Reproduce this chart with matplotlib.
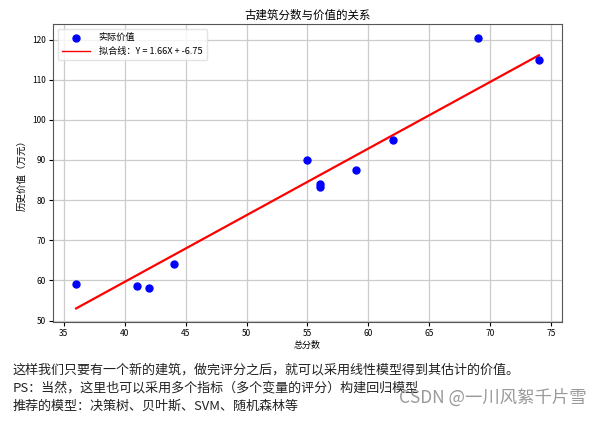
import matplotlib
matplotlib.use('Agg')
import matplotlib.pyplot as plt
import numpy as np

plt.rcParams['font.family'] = ['Noto Sans CJK SC', 'DejaVu Sans']
plt.rcParams['axes.unicode_minus'] = False

# data
scores = [36, 41, 42, 44, 55, 56, 56, 59, 62, 69, 74]
values = [59, 58.5, 58, 64, 90, 83.2, 83.9, 87.5, 95, 120.5, 115]
slope = 1.66
intercept = -6.75

title = '古建筑分数与价值的关系'
xlabel = '总分数'
ylabel = '历史价值（万元）'
label_points = '实际价值'
label_line = '拟合线：Y = 1.66X + -6.75'

notes = [
    '这样我们只要有一个新的建筑，做完评分之后，就可以采用线性模型得到其估计的价值。',
    'PS：当然，这里也可以采用多个指标（多个变量的评分）构建回归模型',
    '推荐的模型：决策树、贝叶斯、SVM、随机森林等',
]
watermark = 'CSDN @一川风絮千片雪'

fig = plt.figure(figsize=(6.04, 4.22), dpi=100)
ax = fig.add_axes([0.0877, 0.237, 0.8428, 0.7061])

# fitted line over the data range
line_x = np.array([min(scores), max(scores)])
line_y = slope * line_x + intercept

ax.scatter(scores, values, color='blue', s=25, label=label_points, zorder=3)
ax.plot(line_x, line_y, color='red', linewidth=1.6, label=label_line, zorder=2)

ax.set_title(title, fontsize=8.3, pad=4)
ax.set_xlabel(xlabel, fontsize=6.5, labelpad=2)
ax.set_ylabel(ylabel, fontsize=6.8, labelpad=4)
ax.tick_params(labelsize=6, length=3, pad=2)
ax.grid(True, color='#cccccc', linewidth=0.9)
ax.set_axisbelow(True)
for s in ax.spines.values():
    s.set_color('#555555')

leg = ax.legend(loc='upper left', fontsize=6.6, framealpha=0.8,
                borderpad=0.5, handlelength=3, handletextpad=1.0)
leg.get_frame().set_edgecolor('#dddddd')
leg.get_lines()[0].set_linewidth(1.0)

# article text under the chart
for i, line in enumerate(notes):
    fig.text(13 / 604, 1 - (370 + 18 * i) / 422, line, fontsize=9.4,
             color='#222222', va='center', ha='left')

fig.text(587 / 604, 1 - 398 / 422, watermark, fontsize=12.5,
         color='#999999', va='center', ha='right')

fig.savefig('out.png', dpi=100)
